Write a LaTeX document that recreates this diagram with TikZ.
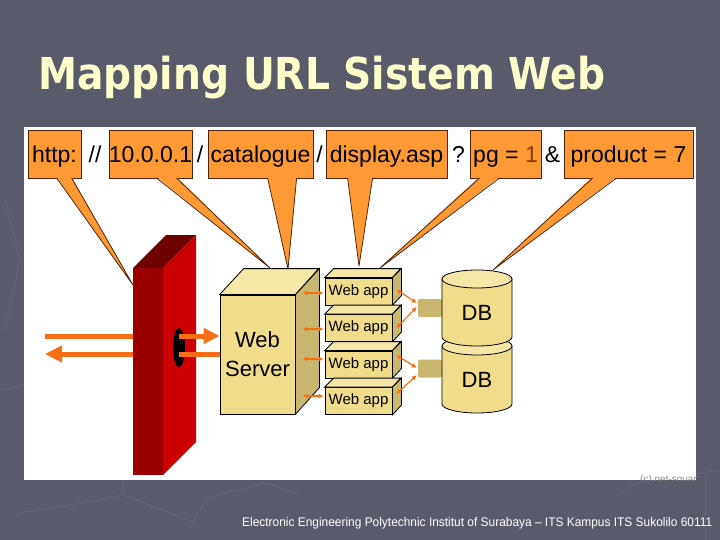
\documentclass[tikz,border=0pt]{standalone}
\usepackage{fontspec}
\setmainfont{Liberation Sans}
\newfontfamily\titlefont{DejaVu Sans}
\usepackage{xcolor}
\usetikzlibrary{arrows.meta, calc, shapes.geometric}
\definecolor{slidebg}{RGB}{89,91,107}
\definecolor{bgline}{RGB}{99,101,118}
\definecolor{titleyellow}{RGB}{255,255,204}
\definecolor{urlorange}{RGB}{255,153,51}
\definecolor{urlline}{RGB}{80,35,10}
\definecolor{arroworange}{RGB}{248,110,20}
\definecolor{wallfront}{RGB}{155,0,0}
\definecolor{wallside}{RGB}{204,0,0}
\definecolor{walltop}{RGB}{110,0,0}
\definecolor{boxfront}{RGB}{240,221,140}
\definecolor{boxtop}{RGB}{245,231,165}
\definecolor{boxside}{RGB}{200,183,110}
\definecolor{numbrown}{RGB}{140,55,15}

\tikzset{
  urlbox/.style={draw=urlline, fill=urlorange, line width=0.8pt, minimum height=48pt,
    inner sep=0pt, text height=17pt, text depth=0pt, font=\fontsize{23}{25}\selectfont},
  urlsep/.style={inner sep=0pt, text height=17pt, text depth=0pt, font=\fontsize{23}{25}\selectfont},
  tailedge/.style={draw=urlline, line width=0.8pt, line join=round},
  bigarrow/.style={draw=arroworange, line width=5pt},
  smallarrow/.style={draw=arroworange, line width=1.2pt,
    {Latex[length=5pt,width=5pt]}-{Latex[length=5pt,width=5pt]}},
  boxedge/.style={draw=black, line width=0.8pt},
}

\begin{document}
\begin{tikzpicture}[x=1pt, y=-1pt]
\useasboundingbox (0,0) rectangle (720,540);
\fill[slidebg] (0,0) rectangle (720,540);

% faint background lines
\draw[bgline, line width=1pt] (18,513) -- (83,503) -- (123,495) -- (123,480);
\draw[bgline, line width=1pt] (123,495) -- (193,522) -- (207,498) -- (267,483) -- (300,495);
\draw[bgline, line width=1pt] (617,495) -- (637,483) -- (720,470);
\draw[bgline, line width=1pt] (705,480) -- (705,540);
\draw[bgline, line width=1pt] (0,390) -- (24,385);
\draw[bgline, line width=1pt] (5,200) -- (20,260) -- (5,330);

\node[anchor=base west, inner sep=0pt, text=titleyellow] (title) at (38,90)
  {\resizebox{567pt}{\height}{\titlefont\bfseries\fontsize{44}{50}\selectfont Mapping URL Sistem Web}};

% white panel
\fill[white] (24,127) rectangle (696,480);
\begin{scope}
\clip (24,127) rectangle (696,480);
\node[anchor=base west, inner sep=0pt, text=black!45, font=\fontsize{10}{11}\selectfont] (copyr) at (640,482.5) {(c) net-square};
\end{scope}

% url parts
\node[urlbox, minimum width=53pt] (http) at (54.5,154) {http:};
\node[urlsep] (sepa) at (95,154) {//};
\node[urlbox, minimum width=83pt] (ip) at (150.5,154) {10.0.0.1};
\node[urlsep] (sepb) at (200,154) {/};
\node[urlbox, minimum width=105pt] (cat) at (260.5,154) {catalogue};
\node[urlsep] (sepc) at (319.5,154) {/};
\node[urlbox, minimum width=121pt] (disp) at (386.5,154) {display.asp};
\node[urlsep] (sepd) at (458.5,154) {?};
\node[urlbox, minimum width=71pt] (pg) at (505.5,154) {pg = \textcolor{numbrown}{1}};
\node[urlsep] (sepe) at (552.5,154) {\&};
\node[urlbox, minimum width=129pt] (prod) at (628.5,154) {product = 7};

\coordinate (tipwall) at (133,285);
\coordinate (tipwsa) at (270,268);
\coordinate (tipwsb) at (288,269);
\coordinate (tipappa) at (359,266);
\coordinate (tipappb) at (380,268);
\coordinate (tipdb) at (493,270);

% callout tails
\foreach \src/\dl/\dr/\dst in {http/29/44/tipwall, ip/48/68/tipwsa, cat/60/89/tipwsb,
    disp/22/47/tipappa, pg/10/30/tipappb, prod/29/53/tipdb}{
  \fill[urlorange] ($(\src.south west)+(\dl,-1.5)$) -- (\dst) -- ($(\src.south west)+(\dr,-1.5)$) -- cycle;
  \draw[tailedge] ($(\src.south west)+(\dl,-0.4)$) -- (\dst) -- ($(\src.south west)+(\dr,-0.4)$);
}

% arrows outside the firewall
\node[fill=wallfront, minimum width=30pt, minimum height=207pt, inner sep=0pt, outer sep=0pt] (wall) at (148,371.5) {};
\coordinate (outa) at (45,336);
\coordinate (outb) at (45,354);
\draw[bigarrow] (outa) -- (outa -| wall.west);
\draw[bigarrow, -{Triangle[length=17pt,width=16pt]}] (outb -| wall.west) -- (outb);

% firewall
\fill[wallfront] (wall.north west) rectangle (wall.south east);
\fill[walltop] (wall.north west) -- ++(33,-33) -- ++(30,0) -- (wall.north east) -- cycle;
\fill[wallside] (wall.north east) -- ++(33,-33) -- ++(0,207) -- (wall.south east) -- cycle;
\node[ellipse, fill=black, minimum width=12pt, minimum height=39pt, inner sep=0pt] (hole) at (179,347.5) {};

% web server
\node[boxedge, fill=boxfront, minimum width=75pt, minimum height=119pt, inner sep=0pt,
  align=center, font=\fontsize{22}{29}\selectfont] (ws) at (257.5,354.5) {Web\\Server};
\filldraw[boxedge, fill=boxtop] (ws.north west) -- ++(24,-26) -- ++(75,0) -- (ws.north east) -- cycle;
\filldraw[boxedge, fill=boxside] (ws.north east) -- ++(24,-26) -- ++(0,119) -- (ws.south east) -- cycle;

\draw[bigarrow, -{Triangle[length=16pt,width=15pt]}] (hole.center |- outa) -- (ws.west |- outa);
\draw[bigarrow] (ws.west |- outb) -- (hole.center |- outb);

% web apps
\foreach \i/\dy in {0/1.5, 1/1, 2/-5.5, 3/-5}{
  \node[boxedge, fill=boxfront, minimum width=67pt, minimum height=27pt, inner sep=0pt,
    font=\fontsize{15}{17}\selectfont] (app\i) at (358.5,291.5+36.5*\i) {Web app};
  \filldraw[boxedge, fill=boxtop] (app\i.north west) -- ++(9,-9) -- ++(67,0) -- (app\i.north east) -- cycle;
  \filldraw[boxedge, fill=boxside] (app\i.north east) -- ++(9,-9) -- ++(0,27) -- (app\i.south east) -- cycle;
  \draw[smallarrow] ($(app\i.west)+(-22,\dy)$) -- ($(app\i.west)+(-1,\dy)$);
}

% database
\node[fill=boxside, minimum width=24pt, minimum height=18pt, inner sep=0pt, rounded corners=2pt] (plugb) at (430,368.5) {};
\node[fill=boxside, minimum width=24pt, minimum height=18pt, inner sep=0pt, rounded corners=2pt] (pluga) at (430,308) {};
\foreach \t in {346, 279}{
  \filldraw[boxedge, fill=boxfront] (442,\t) -- (442,\t+58)
    arc[start angle=180, end angle=0, x radius=35, y radius=9] -- (512,\t) -- cycle;
  \filldraw[boxedge, fill=boxtop] (477,\t) ellipse [x radius=35, y radius=9];
}
\node[font=\fontsize{22}{24}\selectfont] (dba) at (477,313) {DB};
\node[font=\fontsize{22}{24}\selectfont] (dbb) at (477,379.5) {DB};

\draw[smallarrow] ($(app0.east)+(4,-2)$) -- ($(pluga.west)+(-1,-5)$);
\draw[smallarrow] ($(app1.east)+(4,0)$) -- ($(pluga.west)+(-1,-1)$);
\draw[smallarrow] ($(app2.east)+(4,-9.5)$) -- ($(plugb.west)+(-1,-0.5)$);
\draw[smallarrow] ($(app3.east)+(4,-7)$) -- ($(plugb.west)+(-1,6.5)$);

\node[anchor=base west, inner sep=0pt, text=white] (footer) at (242,526)
  {\resizebox{470pt}{\height}{\fontsize{12.5}{14}\selectfont Electronic Engineering Polytechnic Institut of Surabaya – ITS Kampus ITS Sukolilo 60111}};
\end{tikzpicture}
\end{document}
